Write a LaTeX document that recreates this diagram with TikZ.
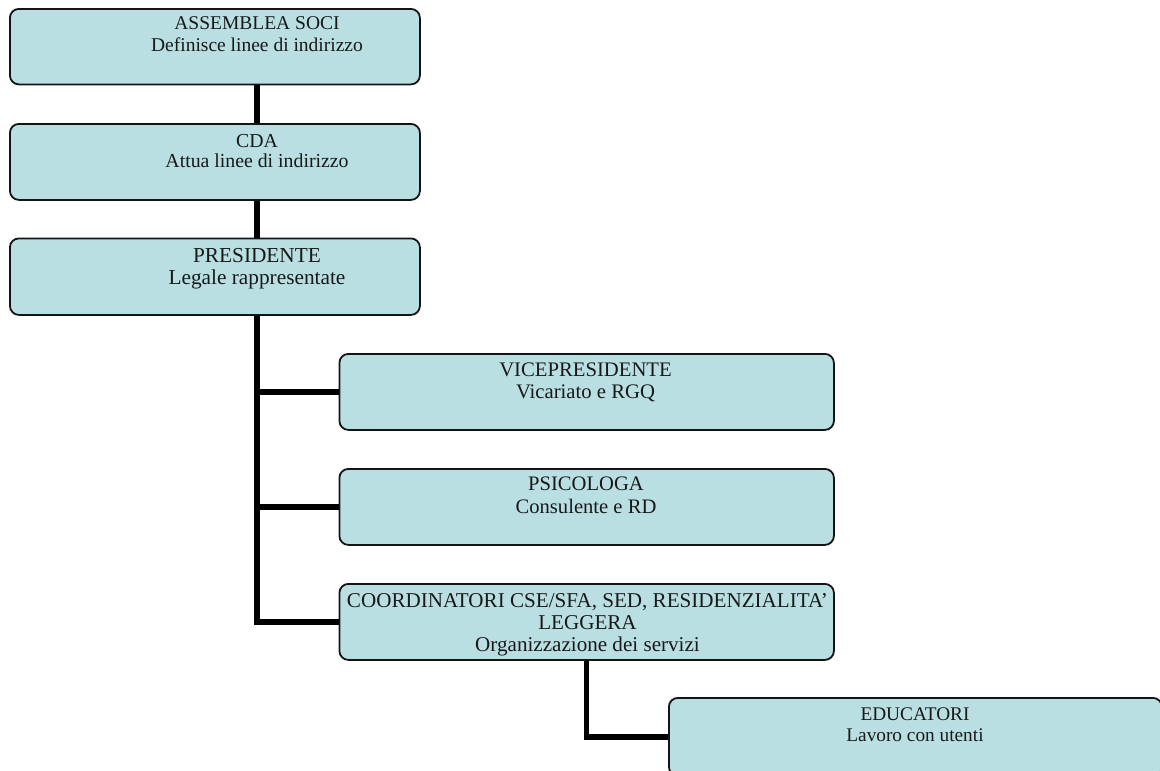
\documentclass[tikz,border=0pt]{standalone}
\usepackage{fontspec}
\setmainfont{Liberation Serif}
\definecolor{boxfill}{RGB}{185,223,227}
\definecolor{boxline}{RGB}{20,20,20}
\begin{document}
\begin{tikzpicture}[x=1pt,y=-1pt,
  orgbox/.style={draw=boxline, line width=1.8pt, fill=boxfill, rounded corners=9pt,
    anchor=north west, inner sep=0pt},
  lbl/.style={anchor=base, align=center, inner sep=0pt, text=black!90},
  conn/.style={line width=5.5pt, black}]
\useasboundingbox (0,0) rectangle (1160,771);
% boxes
\node[orgbox, minimum width=410pt, minimum height=75.5pt] (as) at (9,8) {};
\node[orgbox, minimum width=410pt, minimum height=76pt] (cd) at (9,123) {};
\node[orgbox, minimum width=410pt, minimum height=76.5pt] (pr) at (9,237.5) {};
\node[orgbox, minimum width=494.5pt, minimum height=76pt] (vi) at (338.5,353) {};
\node[orgbox, minimum width=494.5pt, minimum height=76pt] (ps) at (338.5,468) {};
\node[orgbox, minimum width=494.5pt, minimum height=76pt] (co) at (338.5,583) {};
\node[orgbox, minimum width=493pt, minimum height=78pt] (ed) at (668,697) {};
% labels (anchored at the baseline of their last line)
\node[lbl, font=\fontsize{19.5}{21}\selectfont] (ast) at (257,51) {ASSEMBLEA SOCI\\Definisce linee di indirizzo};
\node[lbl, font=\fontsize{19.8}{19.5}\selectfont] (cdt) at (257,167) {CDA\\Attua linee di indirizzo};
\node[lbl, font=\fontsize{21.3}{22}\selectfont] (prt) at (257,284) {PRESIDENTE\\Legale rappresentate};
\node[lbl, font=\fontsize{20.7}{22}\selectfont] (vit) at (585.5,398) {VICEPRESIDENTE\\Vicariato e RGQ};
\node[lbl, font=\fontsize{20.6}{22.3}\selectfont] (pst) at (586,513) {PSICOLOGA\\Consulente e RD};
\node[lbl, font=\fontsize{21.1}{22}\selectfont] (cot) at (587.5,651) {COORDINATORI CSE/SFA, SED, RESIDENZIALITA’\\LEGGERA\\Organizzazione dei servizi};
\node[lbl, font=\fontsize{19.3}{21}\selectfont] (edt) at (915,741) {EDUCATORI\\Lavoro con utenti};
% connectors
\draw[conn] (as.south -| ast) -- (cd.north -| ast);
\draw[conn] (cd.south -| cdt) -- (pr.north -| cdt);
\draw[conn] (pr.south -| prt) |- (co.west);
\draw[conn] (vi.west -| prt) -- (vi.west);
\draw[conn] (ps.west -| prt) -- (ps.west);
\draw[conn] (co.south) |- (ed.west);
\end{tikzpicture}
\end{document}
